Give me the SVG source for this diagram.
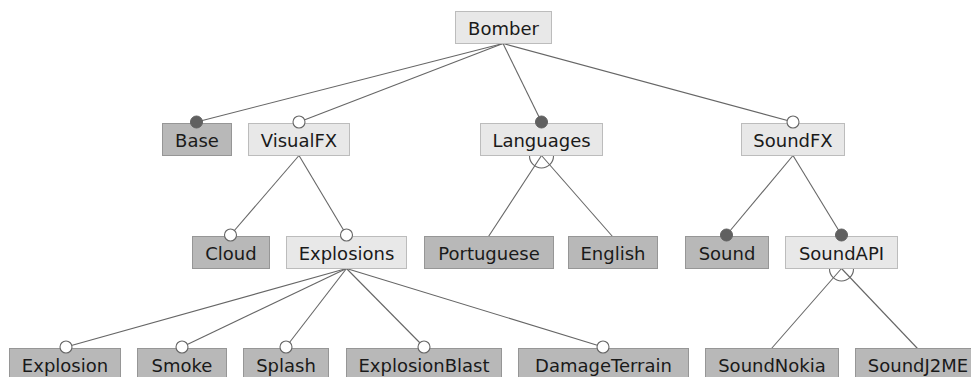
<svg xmlns="http://www.w3.org/2000/svg" width="971" height="377" viewBox="0 0 971 377">
<style>
  .bg { fill: #ffffff; }
  .box-d { fill: #b8b8b8; stroke: #969696; stroke-width: 1; }
  .box-l { fill: #e8e8e8; stroke: #bcbcbc; stroke-width: 1; }
  .lbl { font-family: "DejaVu Sans", Verdana, sans-serif; font-size: 18px; fill: #1a1a1a; text-anchor: middle; }
  .edge { stroke: #666666; stroke-width: 1.1; fill: none; }
  .mand { fill: #606060; stroke: #606060; stroke-width: 1; }
  .opt { fill: #ffffff; stroke: #666666; stroke-width: 1.1; }
</style>
<rect class="bg" x="0" y="0" width="971" height="377"/>

<g id="connectors">
  <line class="edge" x1="503" y1="43.5" x2="196.5" y2="122"/>
  <line class="edge" x1="503" y1="43.5" x2="299" y2="122"/>
  <line class="edge" x1="503" y1="43.5" x2="541.5" y2="122"/>
  <line class="edge" x1="503" y1="43.5" x2="793" y2="122"/>
  <line class="edge" x1="299" y1="155.5" x2="230.5" y2="235"/>
  <line class="edge" x1="299" y1="155.5" x2="346.5" y2="235"/>
  <line class="edge" x1="541.5" y1="155.5" x2="488.5" y2="236.5"/>
  <line class="edge" x1="541.5" y1="155.5" x2="612.5" y2="236.5"/>
  <path class="edge" d="M529.5,156 A12,12 0 0 0 553.5,156"/>
  <line class="edge" x1="793" y1="155.5" x2="726.5" y2="235"/>
  <line class="edge" x1="793" y1="155.5" x2="841.5" y2="235"/>
  <line class="edge" x1="346.5" y1="268.5" x2="66" y2="347"/>
  <line class="edge" x1="346.5" y1="268.5" x2="182" y2="347"/>
  <line class="edge" x1="346.5" y1="268.5" x2="286" y2="347"/>
  <line class="edge" x1="346.5" y1="268.5" x2="424" y2="347"/>
  <line class="edge" x1="346.5" y1="268.5" x2="603" y2="347"/>
  <line class="edge" x1="841.5" y1="268.5" x2="771.5" y2="348.5"/>
  <line class="edge" x1="841.5" y1="268.5" x2="917.5" y2="348.5"/>
  <path class="edge" d="M829.5,269 A12,12 0 0 0 853.5,269"/>
</g>

<g id="n-bomber"><rect class="box-l" x="455.5" y="11.5" width="96" height="32"/><text class="lbl" x="503.5" y="35">Bomber</text></g>

<g id="n-base"><rect class="box-d" x="162.5" y="123.5" width="69" height="32"/><text class="lbl" x="197" y="147">Base</text></g>
<g id="n-visualfx"><rect class="box-l" x="248.5" y="123.5" width="101" height="32"/><text class="lbl" x="299" y="147">VisualFX</text></g>
<g id="n-languages"><rect class="box-l" x="480.5" y="123.5" width="122" height="32"/><text class="lbl" x="541.5" y="147">Languages</text></g>
<g id="n-soundfx"><rect class="box-l" x="741.5" y="123.5" width="103" height="32"/><text class="lbl" x="793" y="147">SoundFX</text></g>

<g id="n-cloud"><rect class="box-d" x="192.5" y="236.5" width="77" height="32"/><text class="lbl" x="231" y="260">Cloud</text></g>
<g id="n-explosions"><rect class="box-l" x="286.5" y="236.5" width="120" height="32"/><text class="lbl" x="346.5" y="260">Explosions</text></g>
<g id="n-portuguese"><rect class="box-d" x="424.5" y="236.5" width="129" height="32"/><text class="lbl" x="489" y="260">Portuguese</text></g>
<g id="n-english"><rect class="box-d" x="568.5" y="236.5" width="89" height="32"/><text class="lbl" x="613" y="260">English</text></g>
<g id="n-sound"><rect class="box-d" x="685.5" y="236.5" width="83" height="32"/><text class="lbl" x="727" y="260">Sound</text></g>
<g id="n-soundapi"><rect class="box-l" x="785.5" y="236.5" width="112" height="32"/><text class="lbl" x="841.5" y="260">SoundAPI</text></g>

<g id="n-explosion"><rect class="box-d" x="9.5" y="348.5" width="111" height="32"/><text class="lbl" x="65" y="372">Explosion</text></g>
<g id="n-smoke"><rect class="box-d" x="137.5" y="348.5" width="89" height="32"/><text class="lbl" x="182" y="372">Smoke</text></g>
<g id="n-splash"><rect class="box-d" x="243.5" y="348.5" width="85" height="32"/><text class="lbl" x="286" y="372">Splash</text></g>
<g id="n-explosionblast"><rect class="box-d" x="346.5" y="348.5" width="155" height="32"/><text class="lbl" x="424" y="372">ExplosionBlast</text></g>
<g id="n-damageterrain"><rect class="box-d" x="518.5" y="348.5" width="170" height="32"/><text class="lbl" x="603.5" y="372">DamageTerrain</text></g>
<g id="n-soundnokia"><rect class="box-d" x="705.5" y="348.5" width="133" height="32"/><text class="lbl" x="772" y="372">SoundNokia</text></g>
<g id="n-soundj2me"><rect class="box-d" x="855.5" y="348.5" width="125" height="32"/><text class="lbl" x="918" y="372">SoundJ2ME</text></g>

<g id="markers">
  <circle class="mand" cx="196.5" cy="122" r="6"/>
  <circle class="opt" cx="299" cy="122" r="6"/>
  <circle class="mand" cx="541.5" cy="122" r="6"/>
  <circle class="opt" cx="793" cy="122" r="6"/>
  <circle class="opt" cx="230.5" cy="235" r="6"/>
  <circle class="opt" cx="346.5" cy="235" r="6"/>
  <circle class="mand" cx="726.5" cy="235" r="6"/>
  <circle class="mand" cx="841.5" cy="235" r="6"/>
  <circle class="opt" cx="66" cy="347" r="6"/>
  <circle class="opt" cx="182" cy="347" r="6"/>
  <circle class="opt" cx="286" cy="347" r="6"/>
  <circle class="opt" cx="424" cy="347" r="6"/>
  <circle class="opt" cx="603" cy="347" r="6"/>
</g>
</svg>
